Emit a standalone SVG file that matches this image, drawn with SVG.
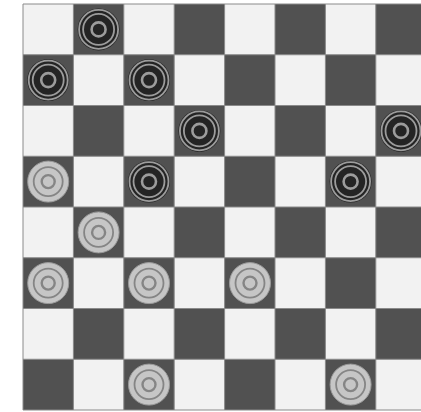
<svg xmlns="http://www.w3.org/2000/svg" xmlns:xlink="http://www.w3.org/1999/xlink" width="421" height="412" viewBox="0 0 421 412">
<defs>
<style>
.l{fill:#f2f2f2}
.d{fill:#515151}
.grid{fill:none;stroke:#8a8a8a;stroke-width:1}
</style>
<g id="bp">
<circle r="21" fill="#242424"/>
<circle r="19.5" fill="none" stroke="#9c9c9c" stroke-width="1.8"/>
<circle r="15.5" fill="none" stroke="#9c9c9c" stroke-width="1.8"/>
<circle r="7" fill="none" stroke="#9c9c9c" stroke-width="2.6"/>
</g>
<g id="wp">
<circle r="20.5" fill="#c6c6c6" stroke="#9a9a9a" stroke-width="1"/>
<circle r="14.5" fill="none" stroke="#858585" stroke-width="1.8"/>
<circle r="6.5" fill="none" stroke="#858585" stroke-width="2.4"/>
</g>
</defs>
<rect width="421" height="412" fill="#ffffff"/>
<g id="board">
<rect x="23" y="4" width="403.2" height="406" class="l"/>
<g class="d">
<rect x="73.4" y="4" width="50.4" height="50.75"/>
<rect x="174.2" y="4" width="50.4" height="50.75"/>
<rect x="275" y="4" width="50.4" height="50.75"/>
<rect x="375.8" y="4" width="50.4" height="50.75"/>
<rect x="23" y="54.75" width="50.4" height="50.75"/>
<rect x="123.8" y="54.75" width="50.4" height="50.75"/>
<rect x="224.6" y="54.75" width="50.4" height="50.75"/>
<rect x="325.4" y="54.75" width="50.4" height="50.75"/>
<rect x="73.4" y="105.5" width="50.4" height="50.75"/>
<rect x="174.2" y="105.5" width="50.4" height="50.75"/>
<rect x="275" y="105.5" width="50.4" height="50.75"/>
<rect x="375.8" y="105.5" width="50.4" height="50.75"/>
<rect x="23" y="156.25" width="50.4" height="50.75"/>
<rect x="123.8" y="156.25" width="50.4" height="50.75"/>
<rect x="224.6" y="156.25" width="50.4" height="50.75"/>
<rect x="325.4" y="156.25" width="50.4" height="50.75"/>
<rect x="73.4" y="207" width="50.4" height="50.75"/>
<rect x="174.2" y="207" width="50.4" height="50.75"/>
<rect x="275" y="207" width="50.4" height="50.75"/>
<rect x="375.8" y="207" width="50.4" height="50.75"/>
<rect x="23" y="257.75" width="50.4" height="50.75"/>
<rect x="123.8" y="257.75" width="50.4" height="50.75"/>
<rect x="224.6" y="257.75" width="50.4" height="50.75"/>
<rect x="325.4" y="257.75" width="50.4" height="50.75"/>
<rect x="73.4" y="308.5" width="50.4" height="50.75"/>
<rect x="174.2" y="308.5" width="50.4" height="50.75"/>
<rect x="275" y="308.5" width="50.4" height="50.75"/>
<rect x="375.8" y="308.5" width="50.4" height="50.75"/>
<rect x="23" y="359.25" width="50.4" height="50.75"/>
<rect x="123.8" y="359.25" width="50.4" height="50.75"/>
<rect x="224.6" y="359.25" width="50.4" height="50.75"/>
<rect x="325.4" y="359.25" width="50.4" height="50.75"/>
</g>
<path class="grid" d="M23,4V410M73.4,4V410M123.8,4V410M174.2,4V410M224.6,4V410M275,4V410M325.4,4V410M375.8,4V410M23,4H426M23,54.75H426M23,105.5H426M23,156.25H426M23,207H426M23,257.75H426M23,308.5H426M23,359.25H426M23,410H426"/>
</g>
<g id="pieces">
<use id="b1" xlink:href="#bp" x="98.6" y="29.4"/>
<use id="b2" xlink:href="#bp" x="48.2" y="80.1"/>
<use id="b3" xlink:href="#bp" x="149" y="80.1"/>
<use id="b4" xlink:href="#bp" x="199.4" y="130.9"/>
<use id="b5" xlink:href="#bp" x="401" y="130.9"/>
<use id="b6" xlink:href="#bp" x="149" y="181.6"/>
<use id="b7" xlink:href="#bp" x="350.6" y="181.6"/>
<use id="w1" xlink:href="#wp" x="48.2" y="181.6"/>
<use id="w2" xlink:href="#wp" x="98.6" y="232.4"/>
<use id="w3" xlink:href="#wp" x="48.2" y="283.1"/>
<use id="w4" xlink:href="#wp" x="149" y="283.1"/>
<use id="w5" xlink:href="#wp" x="250" y="283.1"/>
<use id="w6" xlink:href="#wp" x="149" y="384.6"/>
<use id="w7" xlink:href="#wp" x="350.6" y="384.6"/>
</g>
</svg>
